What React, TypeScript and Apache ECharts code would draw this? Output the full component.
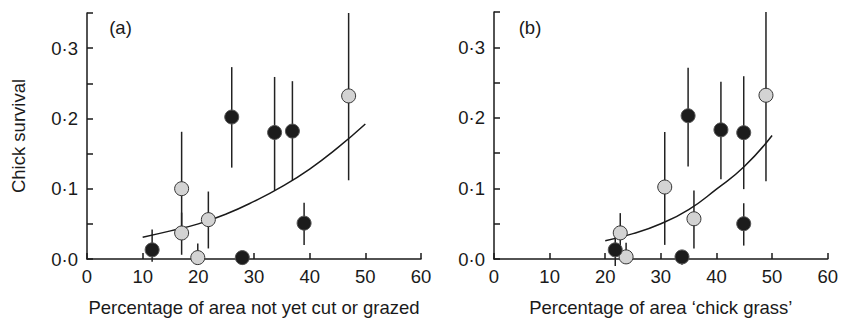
import React, { useEffect, useRef } from "react";
import * as echarts from "echarts";

// Panel (a): percentage of area not yet cut or grazed
const aBlackX = [11.7, 26, 27.9, 33.7, 36.9, 39];
const aBlackY = [0.013, 0.202, 0.002, 0.18, 0.182, 0.051];
const aBlackLow = [-0.004, 0.13, -0.008, 0.098, 0.112, 0.02];
const aBlackHigh = [0.042, 0.273, 0.01, 0.259, 0.253, 0.08];

const aGreyX = [17, 17, 19.9, 21.8, 47];
const aGreyY = [0.1, 0.037, 0.002, 0.056, 0.232];
const aGreyLow = [0.045, 0.006, 0.0, 0.015, 0.112];
const aGreyHigh = [0.181, 0.066, 0.022, 0.096, 0.35];

const aCurveX = [10, 15, 20, 25, 30, 35, 40, 45, 50];
const aCurveY = [0.031, 0.04, 0.05, 0.064, 0.082, 0.103, 0.128, 0.158, 0.192];

// Panel (b): percentage of area 'chick grass'
const bBlackX = [21.8, 33.8, 34.9, 40.8, 44.9, 44.9];
const bBlackY = [0.013, 0.003, 0.203, 0.183, 0.179, 0.05];
const bBlackLow = [-0.01, -0.008, 0.131, 0.113, 0.099, 0.019];
const bBlackHigh = [0.04, 0.01, 0.271, 0.251, 0.259, 0.079];

const bGreyX = [22.7, 23.75, 30.7, 35.95, 48.9];
const bGreyY = [0.037, 0.003, 0.102, 0.057, 0.232];
const bGreyLow = [0.005, 0.0, 0.02, 0.015, 0.11];
const bGreyHigh = [0.065, 0.023, 0.18, 0.097, 0.35];

const bCurveX = [20, 25, 30, 35, 40, 45, 50];
const bCurveY = [0.026, 0.036, 0.05, 0.07, 0.099, 0.131, 0.175];

const panelLabels = ["(a)", "(b)"];
const xTitles = ["Percentage of area not yet cut or grazed", "Percentage of area \u2018chick grass\u2019"];
const yTitle = "Chick survival";

const FONT = "'Liberation Sans', Arial, Helvetica, sans-serif";
const INK = "#1a1a1a";

const zip2 = (xs: number[], ys: number[]) => xs.map((x, i) => [x, ys[i]]);
const zip3 = (xs: number[], lo: number[], hi: number[]) => xs.map((x, i) => [x, lo[i], hi[i]]);

export default function App() {
  const ref = useRef<HTMLDivElement>(null);

  useEffect(() => {
    if (!ref.current) return;
    const chart = echarts.init(ref.current, undefined, { renderer: "svg" });

    const axisLine = { show: true, lineStyle: { color: INK, width: 1.5 } };
    const axisTick = { show: true, inside: true, length: 6, lineStyle: { color: INK, width: 1.5 } };

    const makeX = (idx: number) => ({
      type: "value",
      gridIndex: idx,
      min: 0,
      max: 60,
      interval: 10,
      axisLine,
      axisTick,
      splitLine: { show: false },
      axisLabel: { color: INK, fontSize: 18.5, fontFamily: FONT, margin: 8 },
      name: xTitles[idx],
      nameLocation: "middle",
      nameGap: 39,
      nameTextStyle: { color: INK, fontSize: 18.5, fontFamily: FONT },
    });

    const makeY = (idx: number) => ({
      type: "value",
      gridIndex: idx,
      min: 0,
      max: 0.35,
      interval: 0.05,
      axisLine,
      axisTick,
      splitLine: { show: false },
      axisLabel: {
        color: INK,
        fontSize: 18.5,
        fontFamily: FONT,
        margin: 9,
        formatter: (v: number) => {
          const k = Math.round(v * 100);
          if (k % 10 !== 0) return "";
          return (k / 100).toFixed(1).replace(".", "\u00b7");
        },
      },
      name: idx === 0 ? yTitle : "",
      nameLocation: "middle",
      nameGap: 59,
      nameTextStyle: { color: INK, fontSize: 18.5, fontFamily: FONT },
    });

    const errorSeries = (idx: number, data: number[][]) => ({
      type: "custom",
      xAxisIndex: idx,
      yAxisIndex: idx,
      clip: false,
      z: 1,
      encode: { x: 0, y: [1, 2] },
      data,
      renderItem: (params: any, api: any) => {
        const x = api.value(0);
        const p1 = api.coord([x, api.value(1)]);
        const p2 = api.coord([x, api.value(2)]);
        return {
          type: "line",
          shape: { x1: p1[0], y1: p1[1], x2: p2[0], y2: p2[1] },
          style: { stroke: "#222", lineWidth: 1.5 },
        };
      },
    });

    const curveSeries = (idx: number, data: number[][]) => ({
      type: "line",
      xAxisIndex: idx,
      yAxisIndex: idx,
      data,
      smooth: true,
      showSymbol: false,
      symbol: "none",
      z: 2,
      lineStyle: { color: INK, width: 1.5 },
    });

    const pointSeries = (idx: number, data: number[][], fill: string, border: string) => ({
      type: "scatter",
      xAxisIndex: idx,
      yAxisIndex: idx,
      data,
      symbol: "circle",
      symbolSize: 14,
      z: 3,
      itemStyle: { color: fill, borderColor: border, borderWidth: 1, opacity: 1 },
    });

    chart.setOption({
      animation: false,
      backgroundColor: "#ffffff",
      textStyle: { fontFamily: FONT },
      grid: [
        { left: 87, top: 13, width: 334, height: 253 },
        { left: 494, top: 12, width: 336, height: 255 },
      ],
      xAxis: [makeX(0), makeX(1)],
      yAxis: [makeY(0), makeY(1)],
      graphic: [
        {
          type: "text",
          x: 120.5,
          y: 27.5,
          style: { text: panelLabels[0], fontSize: 18.5, fontFamily: FONT, fill: INK, align: "center", verticalAlign: "middle" },
        },
        {
          type: "text",
          x: 530,
          y: 27.5,
          style: { text: panelLabels[1], fontSize: 18.5, fontFamily: FONT, fill: INK, align: "center", verticalAlign: "middle" },
        },
      ],
      series: [
        errorSeries(0, zip3(aBlackX, aBlackLow, aBlackHigh)),
        errorSeries(0, zip3(aGreyX, aGreyLow, aGreyHigh)),
        curveSeries(0, zip2(aCurveX, aCurveY)),
        pointSeries(0, zip2(aGreyX, aGreyY), "#d3d3d3", "#333333"),
        pointSeries(0, zip2(aBlackX, aBlackY), "#1c1c1c", "#555555"),
        errorSeries(1, zip3(bBlackX, bBlackLow, bBlackHigh)),
        errorSeries(1, zip3(bGreyX, bGreyLow, bGreyHigh)),
        curveSeries(1, zip2(bCurveX, bCurveY)),
        pointSeries(1, zip2(bGreyX, bGreyY), "#d3d3d3", "#333333"),
        pointSeries(1, zip2(bBlackX, bBlackY), "#1c1c1c", "#555555"),
      ],
    });

    return () => chart.dispose();
  }, []);

  return (
    <div
      ref={ref}
      style={{ position: "fixed", left: 0, top: 0, width: 841, height: 322, background: "#fff" }}
    />
  );
}
